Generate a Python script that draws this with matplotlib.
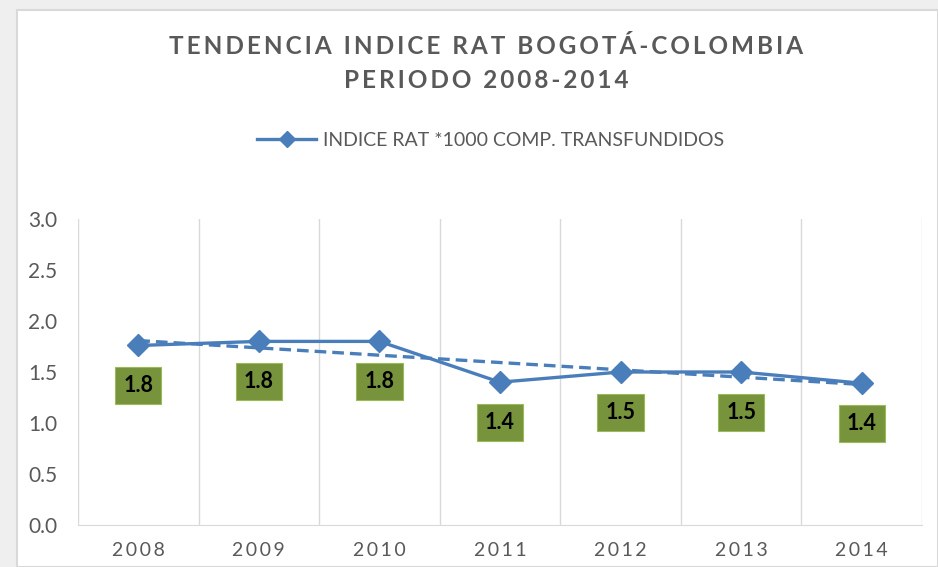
import matplotlib.pyplot as plt
import numpy as np
from matplotlib.patches import Rectangle

years = ["2008", "2009", "2010", "2011", "2012", "2013", "2014"]
indice_rat = [1.76, 1.80, 1.80, 1.40, 1.50, 1.50, 1.39]
y_ticks = [0.0, 0.5, 1.0, 1.5, 2.0, 2.5, 3.0]

title_lines = ["TENDENCIA INDICE RAT BOGOTÁ-COLOMBIA", "PERIODO 2008-2014"]
serie_label = "INDICE RAT *1000 COMP. TRANSFUNDIDOS"

blue = "#4A7EBB"
gray_txt = "#595959"
grid_col = "#D9D9D9"
label_bg = "#77933C"

plt.rcParams['font.family'] = ['Lato', 'DejaVu Sans']


def spaced(s, sep="\u2009"):
    return sep.join(s)


fig = plt.figure(figsize=(9.38, 5.67), dpi=100)
fig.patch.set_facecolor("#EFEFEF")
fig.patches.append(Rectangle((17 / 938, 0), 1 - 17 / 938, 1 - 10 / 567,
                             transform=fig.transFigure, facecolor="white",
                             edgecolor=grid_col, linewidth=1.5, zorder=-1))

ax = fig.add_axes([78 / 938, 1 - 525 / 567, 844 / 938, 306 / 567])
ax.set_facecolor("none")
ax.set_zorder(1)

x = np.arange(len(years))

# tendencia lineal
coef = np.polyfit(x, indice_rat, 1)
ax.plot(x, np.polyval(coef, x), color=blue, linewidth=2.4,
        linestyle=(0, (3.5, 1.8)), zorder=2)

ax.plot(x, indice_rat, color=blue, linewidth=2.4, marker="D",
        markersize=11, label=serie_label, zorder=3)

for xi, v in zip(x, indice_rat):
    ax.annotate(f"{v:.1f}", (xi, v), xytext=(0, -29),
                textcoords="offset points", ha="center", va="center",
                fontsize=15.5, fontweight="bold", color="black",
                bbox=dict(boxstyle="square,pad=0.38", fc=label_bg,
                          ec="#9BBB59", lw=0.8), zorder=4)

ax.set_xlim(-0.5, len(years) - 0.5)
ax.set_ylim(0, 3.0)
ax.set_yticks(y_ticks)
ax.set_yticklabels([f"{t:.1f}" for t in y_ticks])
ax.set_xticks(x)
ax.set_xticklabels([spaced(y) for y in years])
ax.tick_params(axis="both", length=0, labelcolor=gray_txt, labelsize=14)
ax.tick_params(axis="y", pad=15, labelsize=15)
ax.tick_params(axis="x", pad=12)

# separadores verticales entre categorías
ax.set_xticks(np.arange(-0.5, len(years)), minor=True)
ax.tick_params(axis="x", which="minor", length=0)
ax.grid(axis="x", which="minor", color=grid_col, linewidth=1)
ax.grid(axis="y", visible=False)
for side in ["top", "left", "right"]:
    ax.spines[side].set_visible(False)
ax.spines["bottom"].set_color(grid_col)

fig.text(486 / 938, 1 - 47 / 567, spaced(title_lines[0]), ha="center",
         va="center", fontsize=17.5, fontweight="bold", color=gray_txt)
fig.text(486 / 938, 1 - 80 / 567, spaced(title_lines[1]), ha="center",
         va="center", fontsize=17.5, fontweight="bold", color=gray_txt)

fig.legend(loc="center", bbox_to_anchor=(491 / 938, 1 - 140 / 567),
           frameon=False, fontsize=14, labelcolor=gray_txt,
           handlelength=3.0, handletextpad=0.4, markerscale=0.75)

fig.savefig("out.png", dpi=100, facecolor=fig.get_facecolor())
